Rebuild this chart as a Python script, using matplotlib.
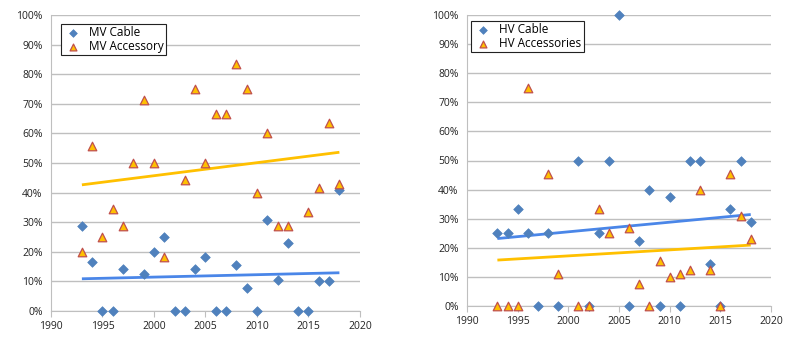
import numpy as np
import matplotlib
matplotlib.use("Agg")
import matplotlib.pyplot as plt
from matplotlib.ticker import FuncFormatter

# ---- data ----
mv_cable_years = [1993, 1994, 1995, 1996, 1997, 1999, 2000, 2001, 2002, 2003, 2004, 2005, 2006, 2007,
                  2008, 2009, 2010, 2011, 2012, 2013, 2014, 2015, 2016, 2017, 2018]
mv_cable_vals = [0.286, 0.167, 0.0, 0.0, 0.143, 0.125, 0.20, 0.25, 0.0, 0.0, 0.143, 0.182, 0.0, 0.0,
                 0.154, 0.077, 0.0, 0.308, 0.105, 0.231, 0.0, 0.0, 0.10, 0.10, 0.41]

mv_acc_years = [1993, 1994, 1995, 1996, 1997, 1998, 1999, 2000, 2001, 2003, 2004, 2005, 2006, 2007,
                2008, 2009, 2010, 2011, 2012, 2013, 2015, 2016, 2017, 2018]
mv_acc_vals = [0.20, 0.556, 0.25, 0.345, 0.286, 0.50, 0.714, 0.50, 0.182, 0.444, 0.75, 0.50, 0.667, 0.667,
               0.833, 0.75, 0.40, 0.60, 0.286, 0.286, 0.333, 0.414, 0.636, 0.429]

hv_cable_years = [1993, 1994, 1995, 1996, 1997, 1998, 1999, 2001, 2002, 2003, 2004, 2005, 2006, 2007,
                  2008, 2009, 2010, 2011, 2012, 2013, 2014, 2015, 2016, 2017, 2018]
hv_cable_vals = [0.25, 0.25, 0.333, 0.25, 0.0, 0.25, 0.0, 0.50, 0.0, 0.25, 0.50, 1.0, 0.0, 0.222,
                 0.40, 0.0, 0.375, 0.0, 0.50, 0.50, 0.143, 0.0, 0.333, 0.50, 0.29]

hv_acc_years = [1993, 1994, 1995, 1996, 1998, 1999, 2001, 2002, 2003, 2004, 2006, 2007, 2008, 2009,
                2010, 2011, 2012, 2013, 2014, 2015, 2016, 2017, 2018]
hv_acc_vals = [0.0, 0.0, 0.0, 0.75, 0.455, 0.111, 0.0, 0.0, 0.333, 0.25, 0.267, 0.077, 0.0, 0.154,
               0.10, 0.111, 0.125, 0.40, 0.125, 0.0, 0.455, 0.308, 0.231]

x_ticks = [1990, 1995, 2000, 2005, 2010, 2015, 2020]
y_ticks = [0, 0.1, 0.2, 0.3, 0.4, 0.5, 0.6, 0.7, 0.8, 0.9, 1.0]

FONT = "Open Sans"
BLUE = "#4F81BD"
TRI_FILL = "#FFC000"
TRI_EDGE = "#C0504D"
TREND_BLUE = "#4A86E8"
TREND_YEL = "#FFC000"
GRID = "#BFBFBF"

fig = plt.figure(figsize=(8.0, 3.44), dpi=100)
W, H = 800, 344

def px_axes(x0, y0, x1, y1):
    return fig.add_axes([x0 / W, 1 - y1 / H, (x1 - x0) / W, (y1 - y0) / H])

def trend(ax, xs, ys, color):
    xs = np.asarray(xs, float)
    ys = np.asarray(ys, float)
    m, b = np.polyfit(xs, ys, 1)
    xe = np.array([xs.min(), xs.max()])
    ax.plot(xe, m * xe + b, color=color, lw=2.0, zorder=2, solid_capstyle="butt")

def setup(ax, l1, l2, cx, cy, ax_x, ay_x, legend_loc):
    ax.set_xlim(1990, 2020)
    ax.set_ylim(0, 1.0)
    ax.set_xticks(x_ticks)
    ax.set_yticks(y_ticks)
    ax.yaxis.set_major_formatter(FuncFormatter(lambda v, p: f"{int(round(v*100))}%"))
    ax.grid(axis="y", color=GRID, lw=1.0, zorder=0)
    ax.set_axisbelow(True)
    for s in ["top", "right"]:
        ax.spines[s].set_visible(False)
    ax.spines["left"].set_color(GRID)
    ax.spines["bottom"].set_color(GRID)
    ax.tick_params(axis="y", length=0, pad=6, labelsize=7.5, labelcolor="#222222")
    ax.tick_params(axis="x", length=4, direction="out", color=GRID, pad=3, labelsize=7.5,
                   labelcolor="#222222")
    for lab in ax.get_xticklabels() + ax.get_yticklabels():
        lab.set_fontfamily(FONT)
    ax.scatter(cx, cy, marker="D", s=24, color=BLUE, edgecolors=BLUE, lw=0.5, zorder=3, label=l1,
               clip_on=False)
    ax.scatter(ax_x, ay_x, marker="^", s=38, color=TRI_FILL, edgecolors=TRI_EDGE, lw=0.9, zorder=4,
               label=l2, clip_on=False)
    leg = ax.legend(loc="upper left", bbox_to_anchor=legend_loc, frameon=True, fancybox=False,
                    edgecolor="#222222", framealpha=1, prop={"family": FONT, "size": 8.5},
                    handletextpad=0.6, borderpad=0.2, labelspacing=0.05, handlelength=1.6,
                    borderaxespad=0, markerscale=0.8)
    leg.get_frame().set_linewidth(0.8)

ax1 = px_axes(51, 15, 360, 311)
setup(ax1, "MV Cable", "MV Accessory", mv_cable_years, mv_cable_vals, mv_acc_years, mv_acc_vals,
      ((61 - 51) / 309, (311 - 24) / 296))
trend(ax1, mv_cable_years, mv_cable_vals, TREND_BLUE)
trend(ax1, mv_acc_years, mv_acc_vals, TREND_YEL)

ax2 = px_axes(467, 15, 771, 306)
setup(ax2, "HV Cable", "HV Accessories", hv_cable_years, hv_cable_vals, hv_acc_years, hv_acc_vals,
      ((471 - 467) / 304, (306 - 21) / 291))
trend(ax2, hv_cable_years, hv_cable_vals, TREND_BLUE)
trend(ax2, hv_acc_years, hv_acc_vals, TREND_YEL)

fig.savefig("out.png", dpi=100)
